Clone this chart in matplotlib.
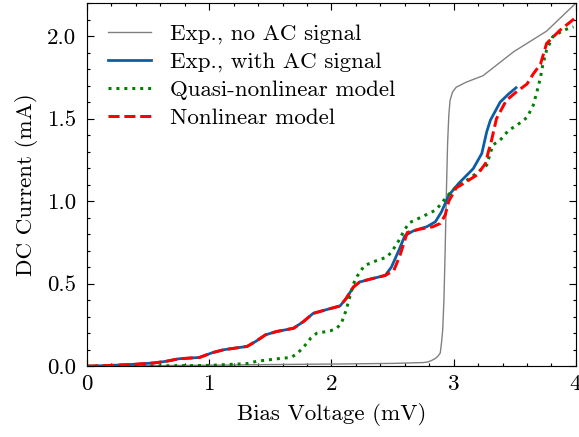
import numpy as np
import matplotlib
matplotlib.use('Agg')
import matplotlib.pyplot as plt
from matplotlib.ticker import MultipleLocator

# SciencePlots-like look
plt.rcParams['font.family'] = 'serif'
plt.rcParams['font.serif'] = ['cmr10']
plt.rcParams['mathtext.fontset'] = 'cm'
plt.rcParams['axes.formatter.use_mathtext'] = True
plt.rcParams['font.size'] = 10
plt.rcParams['axes.linewidth'] = 0.5
for ax_ in ['xtick', 'ytick']:
    plt.rcParams[ax_ + '.direction'] = 'in'
    plt.rcParams[ax_ + '.major.size'] = 3
    plt.rcParams[ax_ + '.major.width'] = 0.5
    plt.rcParams[ax_ + '.minor.size'] = 1.5
    plt.rcParams[ax_ + '.minor.width'] = 0.5
    plt.rcParams[ax_ + '.minor.visible'] = True
plt.rcParams['xtick.top'] = True
plt.rcParams['ytick.right'] = True
plt.rcParams['ytick.major.pad'] = 4.8

# data (V in mV, I in mA)
v_noac = [0.0, 0.5, 1.0, 1.5, 2.0, 2.5, 2.75, 2.79, 2.82, 2.85, 2.87, 2.89, 2.90, 2.91,
          2.92, 2.93, 2.94, 2.95, 2.96, 2.97, 2.99, 3.02, 3.1, 3.24, 3.49, 3.76, 4.0]
i_noac = [0.0, 0.003, 0.006, 0.01, 0.013, 0.017, 0.022, 0.026, 0.035, 0.047, 0.06, 0.08,
          0.14, 0.22, 0.4, 0.7, 1.05, 1.35, 1.52, 1.61, 1.66, 1.69, 1.72, 1.76, 1.905, 2.03, 2.2]

v_ac = [0.0, 0.2, 0.4, 0.55, 0.65, 0.75, 0.92, 1.03, 1.12, 1.31, 1.38, 1.46, 1.55, 1.69,
        1.77, 1.85, 1.97, 2.07, 2.12, 2.18, 2.23, 2.33, 2.44, 2.49, 2.55, 2.60, 2.67, 2.78,
        2.85, 2.90, 2.96, 3.04, 3.08, 3.16, 3.23, 3.27, 3.30, 3.38, 3.45, 3.51]
i_ac = [0.0, 0.005, 0.012, 0.02, 0.03, 0.045, 0.053, 0.083, 0.10, 0.12, 0.15, 0.19, 0.21, 0.23,
        0.27, 0.32, 0.345, 0.365, 0.41, 0.48, 0.51, 0.53, 0.55, 0.60, 0.70, 0.79, 0.82, 0.845,
        0.875, 0.935, 1.036, 1.107, 1.137, 1.197, 1.289, 1.42, 1.49, 1.60, 1.65, 1.687]

v_quasi = [0.0, 0.5, 1.0, 1.31, 1.39, 1.58, 1.67, 1.72, 1.76, 1.80, 1.83, 1.88, 1.99, 2.04,
           2.08, 2.12, 2.15, 2.18, 2.21, 2.27, 2.37, 2.45, 2.49, 2.55, 2.60, 2.64, 2.74, 2.85,
           2.90, 2.94, 3.02, 3.13, 3.27, 3.32, 3.38, 3.45, 3.51, 3.60, 3.65, 3.68, 3.71, 3.73,
           3.76, 3.81, 3.90, 3.98]
i_quasi = [0.0, 0.002, 0.005, 0.016, 0.03, 0.047, 0.053, 0.077, 0.107, 0.14, 0.17, 0.20, 0.214, 0.228,
           0.258, 0.34, 0.42, 0.50, 0.545, 0.61, 0.64, 0.66, 0.69, 0.76, 0.83, 0.87, 0.905, 0.945,
           0.985, 1.026, 1.087, 1.137, 1.218, 1.34, 1.37, 1.43, 1.456, 1.507, 1.58, 1.66, 1.75, 1.83,
           1.915, 1.996, 2.036, 2.056]

v_nl = [0.0, 0.2, 0.4, 0.55, 0.65, 0.75, 0.92, 1.03, 1.12, 1.31, 1.38, 1.46, 1.55, 1.69,
        1.77, 1.85, 1.97, 2.07, 2.12, 2.18, 2.23, 2.33, 2.44, 2.51, 2.56, 2.62, 2.72, 2.83,
        2.89, 2.93, 2.96, 3.02, 3.08, 3.19, 3.26, 3.28, 3.31, 3.35, 3.43, 3.51, 3.60, 3.65,
        3.71, 3.76, 3.87, 3.99]
i_nl = [0.0, 0.005, 0.012, 0.02, 0.03, 0.045, 0.053, 0.083, 0.10, 0.12, 0.15, 0.19, 0.21, 0.23,
        0.27, 0.32, 0.345, 0.365, 0.41, 0.48, 0.51, 0.53, 0.55, 0.58, 0.67, 0.81, 0.83, 0.845,
        0.865, 0.915, 1.0, 1.08, 1.107, 1.158, 1.228, 1.289, 1.37, 1.50, 1.61, 1.66, 1.71, 1.77,
        1.83, 1.955, 2.036, 2.107]

fig, ax = plt.subplots(figsize=(3.5, 437 / 165.714), dpi=165.714)
fig.subplots_adjust(left=0.15, right=0.993, top=0.993, bottom=0.162)

ax.plot(v_noac, i_noac, color='gray', lw=0.6, label='Exp., no AC signal')
ax.plot(v_ac, i_ac, color='#0C5DA5', lw=1.2, label='Exp., with AC signal')
ax.plot(v_quasi, i_quasi, color='green', lw=1.3, ls=':', label='Quasi-nonlinear model')
ax.plot(v_nl, i_nl, color='red', lw=1.3, ls='--', label='Nonlinear model')

ax.set_xlim(0, 4)
ax.set_ylim(0, 2.2)
ax.xaxis.set_major_locator(MultipleLocator(1))
ax.xaxis.set_minor_locator(MultipleLocator(0.2))
ax.yaxis.set_major_locator(MultipleLocator(0.5))
ax.yaxis.set_minor_locator(MultipleLocator(0.1))
ax.yaxis.set_major_formatter(plt.FormatStrFormatter('%.1f'))
ax.set_xlabel('Bias Voltage (mV)')
ax.set_ylabel('DC Current (mA)')
ax.legend(loc='upper left', frameon=False, handlelength=1.9, labelspacing=0.33,
          borderaxespad=0.5)

fig.savefig('out.png', dpi=165.714)
